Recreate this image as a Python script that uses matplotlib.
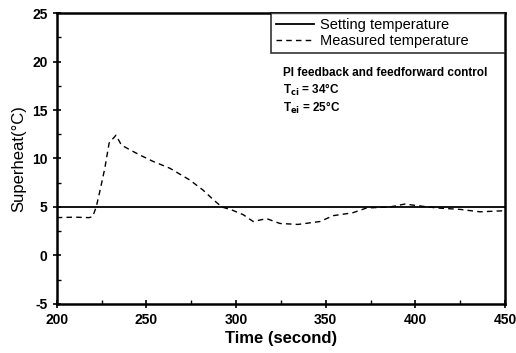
import matplotlib.pyplot as plt

# Setpoint and measured superheat
set_time = [200, 450]
set_value = [5, 5]

meas_time = [200, 210, 218, 220, 222, 224, 226.8, 229.2, 233, 236, 240.7, 247, 253.7,
             263, 274, 281.5, 287, 292, 297.5, 304, 309.5, 317, 324.4, 334.5, 346.8,
             354, 365, 372.8, 385.8, 394, 402.6, 411.9, 424.9, 436, 448, 450]
meas_value = [3.9, 3.95, 3.9, 4.0, 5.0, 6.6, 9.0, 11.6, 12.4, 11.4, 10.9, 10.3, 9.7,
              9.0, 7.8, 6.75, 5.8, 5.0, 4.7, 4.2, 3.5, 3.8, 3.3, 3.2, 3.5,
              4.1, 4.4, 4.9, 5.0, 5.3, 5.1, 4.9, 4.75, 4.5, 4.6, 4.6]

plt.rcParams['font.family'] = ['Liberation Sans', 'DejaVu Sans']
plt.rcParams['axes.unicode_minus'] = False

fig = plt.figure(figsize=(5.16, 3.53), dpi=100)
ax = fig.add_axes([0.110, 0.139, 0.869, 0.824])

ax.plot(set_time, set_value, color='black', lw=1.3, label='Setting temperature')
ax.plot(meas_time, meas_value, color='black', lw=1.0, dashes=(4, 3),
        label='Measured temperature')

ax.set_xlim(200, 450)
ax.set_ylim(-5, 25)
ax.set_xticks(range(200, 451, 50))
ax.set_yticks(range(-5, 26, 5))
ax.set_xticks(range(225, 450, 50), minor=True)
ax.set_yticks([-2.5, 2.5, 7.5, 12.5, 17.5, 22.5], minor=True)
ax.tick_params(which='major', direction='inout', length=6, width=1.2,
               labelsize=10)
ax.tick_params(which='minor', direction='in', length=3, width=1)
for lab in ax.get_xticklabels() + ax.get_yticklabels():
    lab.set_fontweight('bold')
for s in ax.spines.values():
    s.set_linewidth(1.8)

ax.set_xlabel('Time (second)', fontsize=12, fontweight='bold', labelpad=3)
ax.set_ylabel('Superheat(°C)', fontsize=12, labelpad=4)

# legend box stretched from x=271px to the right spine, like the reference
leg = ax.legend(loc='upper left', bbox_to_anchor=(0.478, 0.0, 0.522, 1.0),
                mode='expand', borderaxespad=0,
                frameon=True, fancybox=False, edgecolor='black', fontsize=10.5,
                handlelength=2.6, handletextpad=0.4, labelspacing=0.15,
                borderpad=0.35)
leg.get_frame().set_linewidth(1.2)

W, H = 516, 353
fig.text(283 / W, 1 - 73 / H, 'PI feedback and feedforward control',
         fontsize=8.5, fontweight='bold', va='center')
fig.text(283 / W, 1 - 90 / H, r'T$_\mathbf{ci}$ = 34°C', fontsize=8.5,
         fontweight='bold', va='center')
fig.text(283 / W, 1 - 108 / H, r'T$_\mathbf{ei}$ = 25°C', fontsize=8.5,
         fontweight='bold', va='center')

fig.savefig('out.png', dpi=100)
